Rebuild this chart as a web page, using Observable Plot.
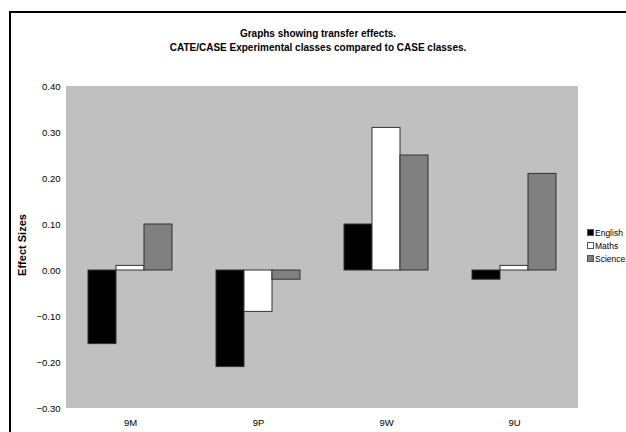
<!DOCTYPE html>
<html>
<head>
<meta charset="utf-8">
<script src="https://cdn.jsdelivr.net/npm/d3@7"></script>
<script src="https://cdn.jsdelivr.net/npm/@observablehq/plot@0.6"></script>
<style>
  html, body { margin: 0; padding: 0; background: #fff; overflow: hidden; width: 626px; height: 432px; }
  #frame { position: absolute; left: 9px; top: 11px; width: 700px; height: 500px; border: 2px solid #000; box-sizing: border-box; }
  #title { position: absolute; left: 0; top: 27px; width: 636px; text-align: center; font-family: "Liberation Sans", Arial, sans-serif; font-weight: bold; font-size: 10px; line-height: 14px; color: #000; }
  #plotbg { position: absolute; left: 66px; top: 86px; width: 512px; height: 322px; background: #c0c0c0; }
  #chart { position: absolute; left: 0; top: 70px; }
  #ylabel { position: absolute; left: 22px; top: 245px; transform: translate(-50%, -50%) rotate(-90deg); font-family: "Liberation Sans", Arial, sans-serif; font-weight: bold; font-size: 11px; white-space: nowrap; color: #000; }
  #legend { position: absolute; left: 587px; top: 227px; font-family: "Liberation Sans", Arial, sans-serif; font-size: 8.5px; line-height: 13px; color: #000; white-space: nowrap; }
  #legend span.sw { display: inline-block; width: 5px; height: 5px; margin-right: 1px; vertical-align: 0px; }
</style>
</head>
<body>
<div id="frame"></div>
<div id="title">Graphs showing transfer effects.<br>CATE/CASE Experimental classes compared to CASE classes.</div>
<div id="plotbg"></div>
<div id="chart"></div>
<div id="ylabel">Effect Sizes</div>
<div id="legend"></div>
<script>
const classes = ["9M", "9P", "9W", "9U"];
const subjects = ["English", "Maths", "Science"];
const english = [-0.16, -0.21, 0.10, -0.02];
const maths = [0.01, -0.09, 0.31, 0.01];
const science = [0.10, -0.02, 0.25, 0.21];
const yTicks = [0.40, 0.30, 0.20, 0.10, 0.00, -0.10, -0.20, -0.30];
const colors = ["#000000", "#ffffff", "#808080"];

const series = [english, maths, science];
const data = [];
classes.forEach((c, i) => {
  subjects.forEach((s, j) => data.push({cls: c, subject: s, value: series[j][i]}));
});

const chart = Plot.plot({
  width: 626,
  height: 362,
  marginLeft: 66,
  marginRight: 48,
  marginTop: 16,
  marginBottom: 24,
  style: {fontFamily: "'Liberation Sans', Arial, sans-serif", fontSize: "9.5px", background: "transparent", color: "#000"},
  facet: {data: data, x: "cls"},
  fx: {domain: classes, padding: 0, label: null, tickSize: 0, tickPadding: 11},
  x: {domain: subjects, axis: null, paddingInner: 0, paddingOuter: 0.707},
  y: {domain: [-0.30, 0.40], ticks: yTicks, tickFormat: d => d3.format(".2f")(d), label: null, tickSize: 0, tickPadding: 6},
  color: {domain: subjects, range: colors},
  marks: [
    Plot.barY(data, {x: "subject", y: "value", fill: "subject", stroke: "#333", strokeWidth: 1, inset: 0})
  ]
});
document.getElementById("chart").appendChild(chart);

const legend = document.getElementById("legend");
subjects.forEach((s, j) => {
  const row = document.createElement("div");
  const sw = document.createElement("span");
  sw.className = "sw";
  sw.style.background = colors[j];
  sw.style.border = "1px solid #555";
  row.appendChild(sw);
  row.appendChild(document.createTextNode(s));
  legend.appendChild(row);
});
</script>
</body>
</html>
